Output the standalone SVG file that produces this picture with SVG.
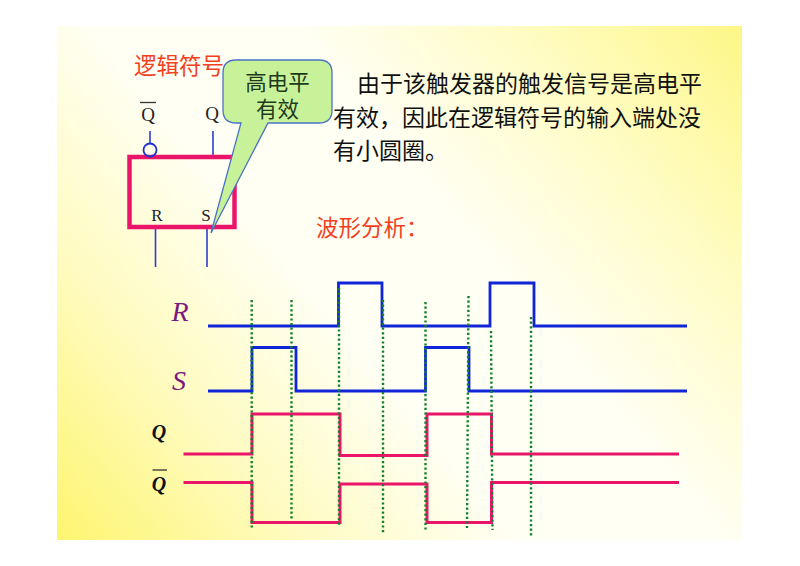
<svg xmlns="http://www.w3.org/2000/svg" width="800" height="566" viewBox="0 0 800 566">
<style>
text{font-family:"Liberation Serif","Noto Sans CJK SC",serif}
.cn{font-family:"Noto Sans CJK SC","Noto Sans CJK TC",sans-serif;font-size:23px;fill:#111}
.red{font-size:22.5px;fill:#f2401e}
.ser{font-size:19px;fill:#222;text-anchor:middle}
.wave{font-size:28px;font-style:italic;fill:#7a1a80;text-anchor:middle}
.qq{font-size:20px;font-style:italic;font-weight:bold;fill:#111;text-anchor:middle}
.b{fill:none;stroke:#1024d8;stroke-width:2.8}
.m{fill:none;stroke:#ea1568;stroke-width:3}
.thin{fill:none;stroke:#2a3fd0;stroke-width:1.6}
.d{fill:none;stroke:#14802a;stroke-width:2.4;stroke-dasharray:2.2 2.4}
</style>
<defs>
<linearGradient id="bg" gradientUnits="userSpaceOnUse" x1="70" y1="560" x2="725" y2="10">
<stop offset="0" stop-color="#fdf56e"/>
<stop offset="0.22" stop-color="#fffbc0"/>
<stop offset="0.42" stop-color="#fffff4"/>
<stop offset="0.6" stop-color="#fffff4"/>
<stop offset="0.8" stop-color="#fffcc4"/>
<stop offset="1" stop-color="#fdf788"/>
</linearGradient>
</defs>
<rect width="800" height="566" fill="#fff"/>
<rect id="background" x="57" y="26" width="685" height="514" fill="url(#bg)"/>
<g id="title-symbol"><text class="cn red" x="134" y="74">逻辑符号</text></g>
<g id="paragraph">
<text class="cn" x="357" y="92">由于该触发器的触发信号是高电平</text>
<text class="cn" x="333" y="126">有效，因此在逻辑符号的输入端处没</text>
<text class="cn" x="333" y="159">有小圆圈。</text>
</g>
<g id="title-wave"><text class="cn red" x="316" y="236">波形分析：</text></g>
<g id="flipflop">
<line class="thin" x1="150" y1="131" x2="150" y2="143"/>
<line class="thin" x1="213" y1="131" x2="213" y2="155"/>
<line class="thin" x1="155.5" y1="229" x2="155.5" y2="267"/>
<line class="thin" x1="207" y1="229" x2="207" y2="267"/>
<rect x="129.5" y="157" width="105" height="70" fill="none" stroke="#ea1568" stroke-width="4.5"/>
<circle cx="150" cy="150" r="6.5" fill="none" stroke="#1f30d0" stroke-width="1.8"/>
<line x1="140" y1="102.5" x2="156" y2="102.5" stroke="#333" stroke-width="1.3"/>
<text class="ser" x="148" y="121">Q</text>
<text class="ser" x="212" y="120">Q</text>
<text class="ser" style="font-size:17px" x="157" y="221">R</text>
<text class="ser" style="font-size:17px" x="206" y="221">S</text>
</g>
<g id="callout">
<path d="M236 60H319Q332 60 332 73V110Q332 123 319 123H268L211 233L241 123H236Q223 123 223 110V73Q223 60 236 60Z" fill="#c8f29a" stroke="#4a72c4" stroke-width="1.3"/>
<text class="cn" style="font-size:21.5px;text-anchor:middle;fill:#1d3a1d" x="277.5" y="90">高电平</text>
<text class="cn" style="font-size:21.5px;text-anchor:middle;fill:#1d3a1d" x="277.5" y="117">有效</text>
</g>
<g id="labels">
<text class="wave" x="180" y="321">R</text>
<text class="wave" x="179" y="390">S</text>
<text class="qq" x="159" y="439">Q</text>
<line x1="152.5" y1="470" x2="167" y2="470" stroke="#222" stroke-width="1.2"/>
<text class="qq" x="159" y="491">Q</text>
</g>
<g id="connectors">
<path id="wave-R" class="b" d="M208 326H338.5V283H382V326H490V283H534V326H687"/>
<path id="wave-S" class="b" d="M208 391H252V347.5H296V391H425.5V347.5H469V391H687"/>
<path id="wave-Q" class="m" d="M183.5 454H252V414H340V455.5H427V414H491.5V454H679"/>
<path id="wave-Qbar" class="m" d="M183.5 482.5H252V522.5H340V484H427V522.5H491.5V482.5H679"/>
<g id="guides">
<line class="d" x1="251.7" y1="300" x2="251.7" y2="528"/>
<line class="d" x1="291.5" y1="300" x2="291.5" y2="520"/>
<line class="d" x1="339" y1="288" x2="339" y2="527"/>
<line class="d" x1="383" y1="300" x2="383" y2="533"/>
<line class="d" x1="425.5" y1="302" x2="425.5" y2="530"/>
<line class="d" x1="468.5" y1="296" x2="467" y2="528"/>
<line class="d" x1="491" y1="331" x2="492.5" y2="530"/>
<line class="d" x1="531" y1="317" x2="531" y2="537"/>
</g>
</g>
</svg>
